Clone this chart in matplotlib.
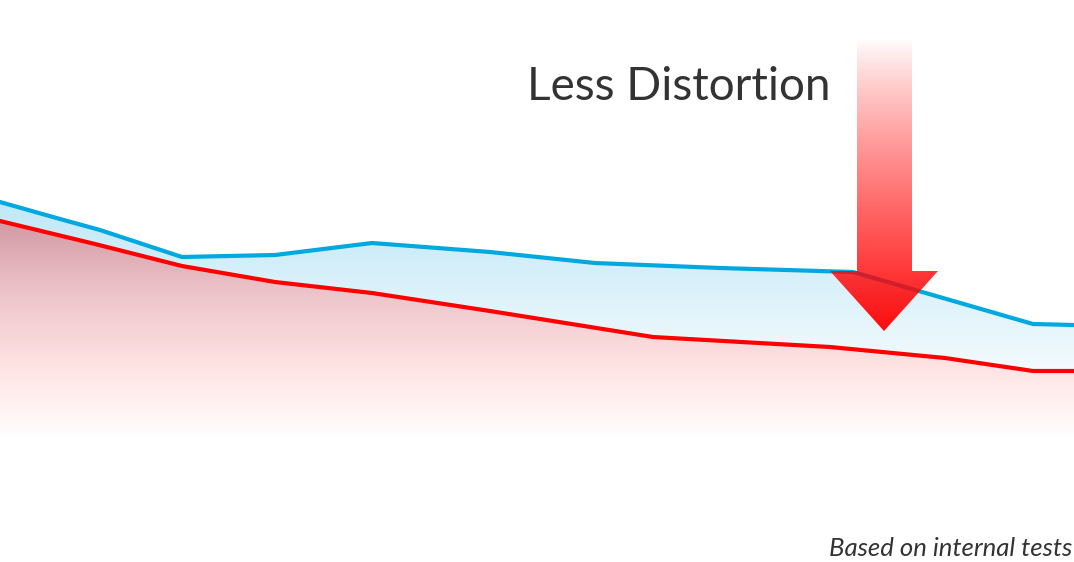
import numpy as np
import matplotlib.pyplot as plt
from matplotlib.patches import Polygon

# Dados (x = posição do teste, y = nível de distorção)
blue_x = [0, 60, 100, 182, 275, 372, 490, 595, 720, 853, 1033, 1074]
blue_y = [360, 343, 332, 305, 307, 319, 310, 299, 294, 290, 238, 237]
red_x = [0, 95, 182, 275, 372, 490, 653, 830, 945, 1033, 1074]
red_y = [341, 318, 296, 280, 269, 251, 225, 215, 204, 191, 191]

W, H = 1074, 562
fig = plt.figure(figsize=(W / 100, H / 100), dpi=100)
ax = fig.add_axes([0, 0, 1, 1])
ax.set_xlim(0, W)
ax.set_ylim(0, H)
ax.axis("off")


def gradient_fill(x, y, stops, top, bottom, z):
    # gradiente vertical (lista de cores de cima para baixo) recortado pela curva
    n = 256
    t = np.linspace(0, 1, n)
    pos = np.linspace(0, 1, len(stops))
    img = np.ones((n, 2, 3))
    for c in range(3):
        img[:, :, c] = np.interp(t, pos, [s[c] for s in stops])[:, None]
    im = ax.imshow(img, extent=[0, W, bottom, top], origin="upper",
                   aspect="auto", zorder=z)
    poly = Polygon(list(zip(x, y)) + [(x[-1], 0), (x[0], 0)],
                   closed=True, transform=ax.transData)
    im.set_clip_path(poly)


white = (1, 1, 1)
gradient_fill(blue_x, blue_y, [(0.75, 0.91, 0.965), (0.88, 0.955, 0.985), white],
              362, 150, 1)
gradient_fill(red_x, red_y, [(0.83, 0.60, 0.64), (0.93, 0.77, 0.79),
                             (1.0, 0.89, 0.89), white],
              342, 122, 2)

ax.plot(blue_x, blue_y, color="#00a8e0", lw=3, zorder=3, solid_joinstyle="miter")
ax.plot(red_x, red_y, color="#ff0000", lw=3, zorder=4, solid_joinstyle="miter")

# seta de gradiente
arrow = [(857, 524), (912, 524), (912, 291), (938, 291), (884, 231),
         (830, 291), (857, 291)]
n = 256
t = np.linspace(0, 1, n)[:, None]
rgba = np.zeros((n, 2, 4))
rgba[:, :, 0] = 1.0
rgba[:, :, 3] = 0.95 * t ** 0.85
aim = ax.imshow(rgba, extent=[830, 938, 231, 524], origin="upper",
                aspect="auto", zorder=5)
aim.set_clip_path(Polygon(arrow, closed=True, transform=ax.transData))

ax.text(527, 462, "Less Distortion", fontsize=33, family="Lato",
        color="#333333", va="baseline", ha="left", zorder=6)
ax.text(1072, 6, "Based on internal tests", fontsize=18.5, family="Lato",
        style="italic", color="#333333", va="baseline", ha="right", zorder=6)

fig.savefig("out.png", dpi=100)
